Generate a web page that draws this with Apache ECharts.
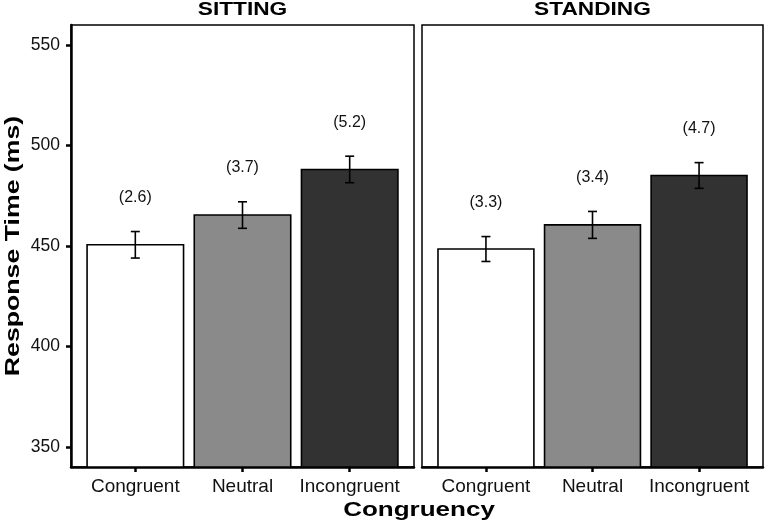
<!DOCTYPE html>
<html>
<head>
<meta charset="utf-8">
<script src="https://cdn.jsdelivr.net/npm/echarts@6/dist/echarts.min.js"></script>
<style>
html,body{margin:0;padding:0;background:#fff;}
#c{width:768px;height:526px;}
</style>
</head>
<body>
<div id="c"></div>
<script>
// ---- data ----
const categories = ['Congruent', 'Neutral', 'Incongruent'];
const panels = ['SITTING', 'STANDING'];
const sittingMeans = [450.6, 465.4, 488.1];
const sittingErr = [6.6, 6.6, 6.6];
const sittingLabels = ['(2.6)', '(3.7)', '(5.2)'];
const standingMeans = [448.5, 460.5, 485.1];
const standingErr = [6.2, 6.7, 6.4];
const standingLabels = ['(3.3)', '(3.4)', '(4.7)'];
const yTicks = [350, 400, 450, 500, 550];
const yMin = 340, yMax = 560;
const barColors = ['#ffffff', '#8a8a8a', '#323232'];

const FONT = 'Liberation Sans, Arial, Helvetica, sans-serif';

function makeRender(labels) {
  return function (params, api) {
    const x = api.value(0), m = api.value(1), e = api.value(2), idx = api.value(3);
    const p0 = api.coord([x - 0.45, m]);
    const p1 = api.coord([x + 0.45, yMin]);
    const top = api.coord([x, m + e]);
    const bot = api.coord([x, m - e]);
    const cap = 4.5;
    return {
      type: 'group',
      children: [
        { type: 'rect', shape: { x: p0[0], y: p0[1], width: p1[0] - p0[0], height: p1[1] - p0[1] },
          style: { fill: barColors[idx], stroke: '#000', lineWidth: 1.6 } },
        { type: 'line', shape: { x1: top[0], y1: top[1], x2: bot[0], y2: bot[1] }, style: { stroke: '#000', lineWidth: 1.6 } },
        { type: 'line', shape: { x1: top[0] - cap, y1: top[1], x2: top[0] + cap, y2: top[1] }, style: { stroke: '#000', lineWidth: 1.6 } },
        { type: 'line', shape: { x1: bot[0] - cap, y1: bot[1], x2: bot[0] + cap, y2: bot[1] }, style: { stroke: '#000', lineWidth: 1.6 } },
        { type: 'text', style: { text: labels[idx], x: top[0], y: top[1] - 34, align: 'center', verticalAlign: 'middle',
          font: '16px ' + FONT, fill: '#111' } }
      ]
    };
  };
}

function seriesData(means, errs) {
  return categories.map((c, i) => [i + 1, means[i], errs[i], i]);
}

const grids = [
  { left: 71, top: 25, width: 343, height: 442 },
  { left: 422, top: 25, width: 341, height: 442 }
];

const chart = echarts.init(document.getElementById('c'));
const axisLineStyle = { color: '#000', width: 2.5 };

const xAxes = grids.map((g, i) => ({
  type: 'value', gridIndex: i, min: 0.4, max: 3.6,
  axisLine: { show: true, onZero: false, lineStyle: axisLineStyle },
  axisTick: { show: true, customValues: [1, 2, 3], length: 5, lineStyle: { color: '#000', width: 2.5 } },
  axisLabel: { show: true, customValues: [1, 2, 3], formatter: v => categories[Math.round(v) - 1],
    fontSize: 19, color: '#111', fontFamily: FONT, margin: 10 },
  splitLine: { show: false }
}));

const yAxes = grids.map((g, i) => ({
  type: 'value', gridIndex: i, min: yMin, max: yMax,
  axisLine: { show: i === 0, onZero: false, lineStyle: axisLineStyle },
  axisTick: { show: i === 0, customValues: yTicks, length: 5, lineStyle: { color: '#000', width: 2.5 } },
  axisLabel: { show: i === 0, customValues: yTicks, fontSize: 17.5, color: '#111', fontFamily: FONT, margin: 11 },
  splitLine: { show: false }
}));

chart.setOption({
  animation: false,
  backgroundColor: '#fff',
  grid: grids.map(g => Object.assign({ show: true, borderColor: '#000', borderWidth: 1.5, backgroundColor: '#fff' }, g)),
  xAxis: xAxes,
  yAxis: yAxes,
  series: [
    { type: 'custom', xAxisIndex: 0, yAxisIndex: 0, renderItem: makeRender(sittingLabels),
      encode: { x: 0, y: 1 }, data: seriesData(sittingMeans, sittingErr) },
    { type: 'custom', xAxisIndex: 1, yAxisIndex: 1, renderItem: makeRender(standingLabels),
      encode: { x: 0, y: 1 }, data: seriesData(standingMeans, standingErr) }
  ],
  graphic: [
    { type: 'text', x: 71 + 343 / 2, y: 10.5, scaleX: 1.26, style: { text: panels[0], font: 'bold 18px ' + FONT, fill: '#000', align: 'center', verticalAlign: 'middle' } },
    { type: 'text', x: 422 + 341 / 2, y: 10.5, scaleX: 1.26, style: { text: panels[1], font: 'bold 18px ' + FONT, fill: '#000', align: 'center', verticalAlign: 'middle' } },
    { type: 'text', x: 419, y: 510, scaleX: 1.3, style: { text: 'Congruency', font: 'bold 20px ' + FONT, fill: '#000', align: 'center', verticalAlign: 'middle' } },
    { type: 'text', x: 13, y: 246, rotation: Math.PI / 2, scaleX: 1.27, style: { text: 'Response Time (ms)', font: 'bold 21px ' + FONT, fill: '#000', align: 'center', verticalAlign: 'middle' } }
  ]
});
</script>
</body>
</html>
